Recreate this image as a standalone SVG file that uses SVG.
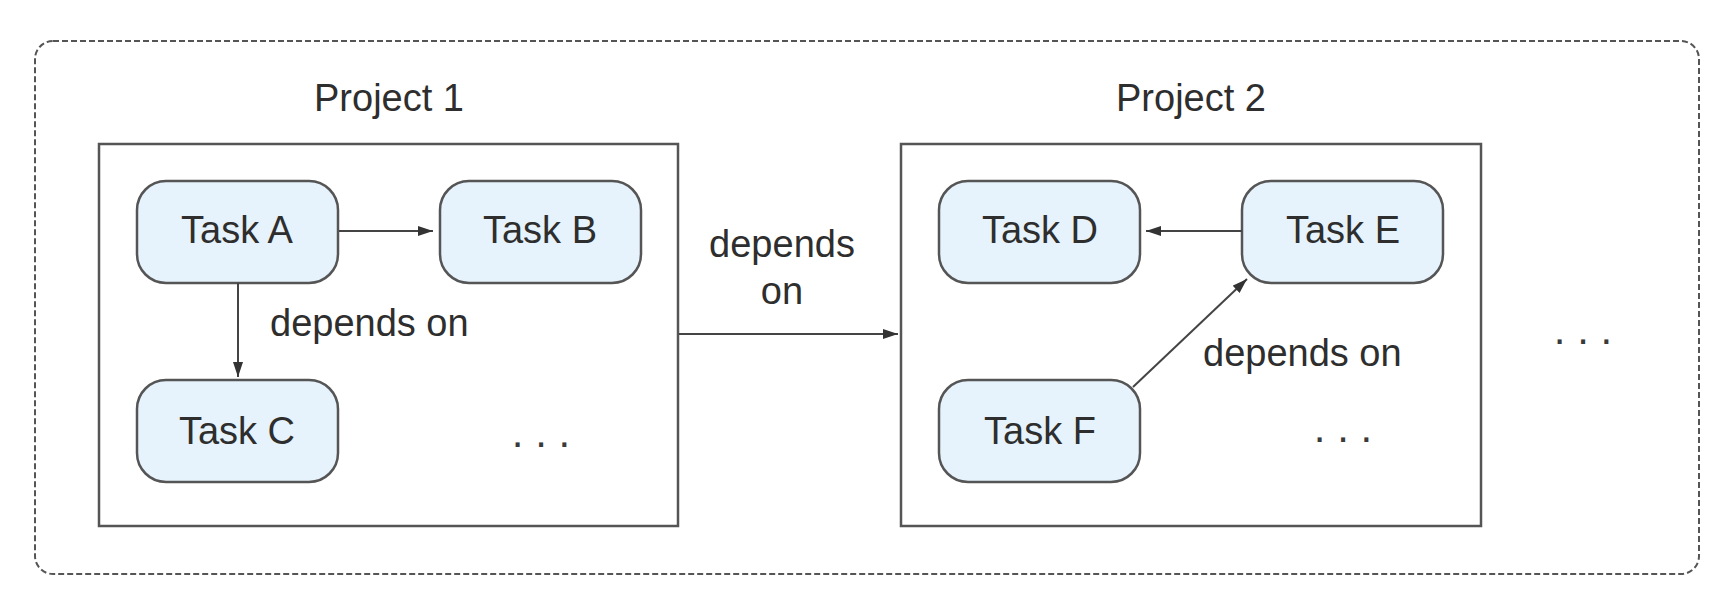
<svg xmlns="http://www.w3.org/2000/svg" width="1732" height="602" viewBox="0 0 1732 602">
  <style>
    .outer { fill: none; stroke: #555; stroke-width: 2; stroke-dasharray: 6 3; }
    .proj { fill: #fff; stroke: #555; stroke-width: 2.5; }
    .task { fill: #e6f3fc; stroke: #555; stroke-width: 2.5; }
    .lbl { font-family: "Liberation Sans", Arial, sans-serif; font-size: 38px; fill: #2e2e2e; }
    .mid { text-anchor: middle; }
    .dots { font-family: "Liberation Sans", Arial, sans-serif; font-size: 42px; fill: #3a3a3a; text-anchor: middle; }
    .conn { fill: none; stroke: #444; stroke-width: 2; }
  </style>
  <defs>
    <marker id="arr" markerUnits="userSpaceOnUse" markerWidth="16" markerHeight="12" refX="15" refY="5" orient="auto">
      <path d="M0,0 L15,5 L0,10 Z" fill="#333"/>
    </marker>
  </defs>
  <rect width="1732" height="602" fill="#fff"/>
  <g id="outer">
    <rect class="outer" x="35" y="41" width="1664" height="533" rx="18" ry="18"/>
    <text class="dots" x="1583" y="344">. . .</text>
  </g>
  <g id="project1">
    <text class="lbl mid" x="389" y="111">Project 1</text>
    <rect class="proj" x="99" y="144" width="579" height="382"/>
    <text class="dots" x="541" y="447">. . .</text>
  </g>
  <g id="project2">
    <text class="lbl mid" x="1191" y="111">Project 2</text>
    <rect class="proj" x="901" y="144" width="580" height="382"/>
    <text class="dots" x="1343" y="442">. . .</text>
  </g>
  <g id="taskA">
    <rect class="task" x="137" y="181" width="201" height="102" rx="29" ry="29"/>
    <text class="lbl mid" x="237" y="243">Task A</text>
  </g>
  <g id="taskB">
    <rect class="task" x="440" y="181" width="201" height="102" rx="29" ry="29"/>
    <text class="lbl mid" x="540" y="243">Task B</text>
  </g>
  <g id="taskC">
    <rect class="task" x="137" y="380" width="201" height="102" rx="29" ry="29"/>
    <text class="lbl mid" x="237" y="444">Task C</text>
  </g>
  <g id="taskD">
    <rect class="task" x="939" y="181" width="201" height="102" rx="29" ry="29"/>
    <text class="lbl mid" x="1040" y="243">Task D</text>
  </g>
  <g id="taskE">
    <rect class="task" x="1242" y="181" width="201" height="102" rx="29" ry="29"/>
    <text class="lbl mid" x="1343" y="243">Task E</text>
  </g>
  <g id="taskF">
    <rect class="task" x="939" y="380" width="201" height="102" rx="29" ry="29"/>
    <text class="lbl mid" x="1040" y="444">Task F</text>
  </g>
  <g id="connectors">
    <line class="conn" x1="339" y1="231" x2="433" y2="231" marker-end="url(#arr)"/>
    <line class="conn" x1="238" y1="283" x2="238" y2="377" marker-end="url(#arr)"/>
    <line class="conn" x1="1242" y1="231" x2="1146" y2="231" marker-end="url(#arr)"/>
    <line class="conn" x1="1133" y1="387" x2="1247" y2="279" marker-end="url(#arr)"/>
    <line class="conn" x1="679" y1="334" x2="898" y2="334" marker-end="url(#arr)"/>
    <text class="lbl" x="270" y="336">depends on</text>
    <text class="lbl mid" x="782" y="257">depends</text>
    <text class="lbl mid" x="782" y="304">on</text>
    <text class="lbl" x="1203" y="366">depends on</text>
  </g>
</svg>
